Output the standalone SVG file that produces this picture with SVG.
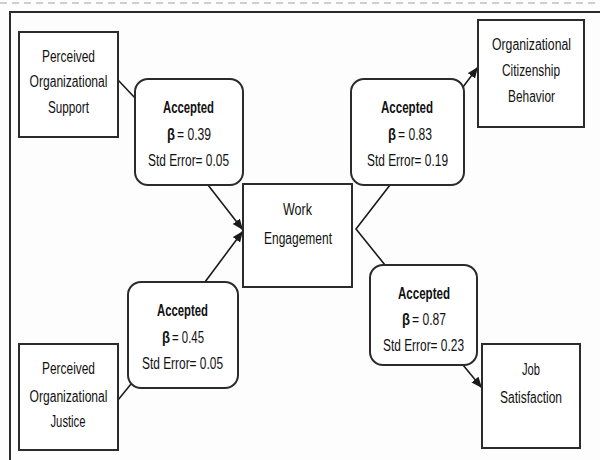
<svg xmlns="http://www.w3.org/2000/svg" width="600" height="460" viewBox="0 0 600 460">
<style>
.bg{fill:#fdfdfd}
.frame{fill:none;stroke:#2b2b2b;stroke-width:2}
.dash{stroke:#a0a0a0;stroke-width:1;stroke-dasharray:7 5}
.box{fill:#ffffff;stroke:#2b2b2b;stroke-width:2}
.rbox{fill:#ffffff;stroke:#2b2b2b;stroke-width:2}
.conn{fill:none;stroke:#1a1a1a;stroke-width:1.6}
text{font-family:"Liberation Sans",Arial,sans-serif;font-size:16px;fill:#111111;text-anchor:middle}
.b{font-weight:bold}
.s{text-anchor:start}
</style>
<defs>
<marker id="arr" markerUnits="userSpaceOnUse" markerWidth="12" markerHeight="10" refX="11" refY="4.5" orient="auto">
<path d="M0,0 L11,4.5 L0,9 z" fill="#1a1a1a"/>
</marker>
</defs>
<rect class="bg" x="0" y="0" width="600" height="460"/>
<line class="dash" x1="0" y1="3" x2="600" y2="3"/>
<path class="frame" d="M10,470 V12 H610"/>

<g id="connectors">
<line class="conn" x1="118" y1="80" x2="136" y2="99"/>
<line class="conn" x1="208" y1="185" x2="243" y2="230" marker-end="url(#arr)"/>
<line class="conn" x1="118" y1="400" x2="131" y2="384"/>
<line class="conn" x1="205" y1="282" x2="243" y2="231" marker-end="url(#arr)"/>
<path class="conn" d="M390,185 L356,229 L385,265"/>
<line class="conn" x1="463" y1="87" x2="478" y2="67" marker-end="url(#arr)"/>
<line class="conn" x1="463" y1="365" x2="482" y2="388" marker-end="url(#arr)"/>
</g>

<g id="pos">
<rect class="box" x="19" y="32" width="99" height="105"/>
<text x="68.5" y="62" textLength="53" lengthAdjust="spacingAndGlyphs">Perceived</text>
<text x="68.5" y="87" textLength="78" lengthAdjust="spacingAndGlyphs">Organizational</text>
<text x="68.5" y="113" textLength="41" lengthAdjust="spacingAndGlyphs">Support</text>
</g>

<g id="poj">
<rect class="box" x="19" y="344" width="99" height="106"/>
<text x="68.5" y="374" textLength="53" lengthAdjust="spacingAndGlyphs">Perceived</text>
<text x="68.5" y="402" textLength="78" lengthAdjust="spacingAndGlyphs">Organizational</text>
<text x="68" y="427" textLength="35" lengthAdjust="spacingAndGlyphs">Justice</text>
</g>

<g id="we">
<rect class="box" x="243" y="184" width="109" height="103"/>
<text x="297.5" y="215" textLength="29" lengthAdjust="spacingAndGlyphs">Work</text>
<text x="298" y="244" textLength="68" lengthAdjust="spacingAndGlyphs">Engagement</text>
</g>

<g id="ocb">
<rect class="box" x="478" y="20" width="106" height="107"/>
<text x="531.5" y="50" textLength="79" lengthAdjust="spacingAndGlyphs">Organizational</text>
<text x="531" y="76" textLength="58" lengthAdjust="spacingAndGlyphs">Citizenship</text>
<text x="531.5" y="102" textLength="47" lengthAdjust="spacingAndGlyphs">Behavior</text>
</g>

<g id="js">
<rect class="box" x="482" y="344" width="98" height="104"/>
<text x="531" y="375" textLength="18" lengthAdjust="spacingAndGlyphs">Job</text>
<text x="531" y="403" textLength="62" lengthAdjust="spacingAndGlyphs">Satisfaction</text>
</g>

<g id="acc1">
<rect class="rbox" x="135" y="79" width="108" height="106" rx="13" ry="13"/>
<text class="b" x="188.5" y="113" textLength="51" lengthAdjust="spacingAndGlyphs">Accepted</text>
<text class="b s" x="167" y="140" textLength="8" lengthAdjust="spacingAndGlyphs">β</text>
<text class="s" x="177" y="140" textLength="34" lengthAdjust="spacingAndGlyphs">= 0.39</text>
<text x="188.5" y="166" textLength="81" lengthAdjust="spacingAndGlyphs">Std Error= 0.05</text>
</g>

<g id="acc2">
<rect class="rbox" x="351" y="79" width="113" height="106" rx="13" ry="13"/>
<text class="b" x="407" y="113" textLength="52" lengthAdjust="spacingAndGlyphs">Accepted</text>
<text class="b s" x="388" y="140" textLength="8" lengthAdjust="spacingAndGlyphs">β</text>
<text class="s" x="398" y="140" textLength="34" lengthAdjust="spacingAndGlyphs">= 0.83</text>
<text x="407.5" y="166" textLength="81" lengthAdjust="spacingAndGlyphs">Std Error= 0.19</text>
</g>

<g id="acc3">
<rect class="rbox" x="128" y="282" width="110" height="106" rx="13" ry="13"/>
<text class="b" x="182.5" y="316" textLength="51" lengthAdjust="spacingAndGlyphs">Accepted</text>
<text class="b s" x="162" y="343" textLength="8" lengthAdjust="spacingAndGlyphs">β</text>
<text class="s" x="172" y="343" textLength="32" lengthAdjust="spacingAndGlyphs">= 0.45</text>
<text x="182.5" y="369" textLength="81" lengthAdjust="spacingAndGlyphs">Std Error= 0.05</text>
</g>

<g id="acc4">
<rect class="rbox" x="370" y="265" width="107" height="100" rx="13" ry="13"/>
<text class="b" x="424" y="299" textLength="52" lengthAdjust="spacingAndGlyphs">Accepted</text>
<text class="b s" x="402" y="325" textLength="8" lengthAdjust="spacingAndGlyphs">β</text>
<text class="s" x="412" y="325" textLength="34" lengthAdjust="spacingAndGlyphs">= 0.87</text>
<text x="423.5" y="351" textLength="81" lengthAdjust="spacingAndGlyphs">Std Error= 0.23</text>
</g>
</svg>
